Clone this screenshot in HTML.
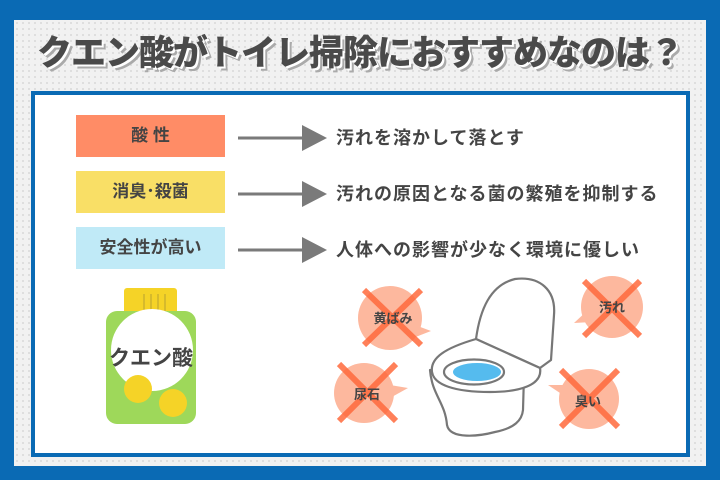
<!DOCTYPE html>
<html><head><meta charset="utf-8"><style>
*{margin:0;padding:0;box-sizing:border-box}
body{width:720px;height:480px;overflow:hidden;background:#0a6ab4;font-family:"Liberation Sans","Noto Sans CJK JP",sans-serif;position:relative}
.bg{position:absolute;left:14px;top:20px;width:692px;height:446px;background:#f1f1f1;background-image:radial-gradient(#dcdcdc 1px,transparent 1.2px);background-size:6px 6px}
.title{position:absolute;left:0;top:25px;width:720px;text-align:center;font-size:35px;font-weight:900;color:#4a4a4a;letter-spacing:-1px;text-shadow:2px 2px 0 #fff,4px 4px 0 #aaa}
.panel{position:absolute;left:31px;top:91px;width:659px;height:366px;background:#fff;border:4px solid #0a6ab4}
.box{position:absolute;left:76px;width:149px;height:42px;font-size:17px;font-weight:bold;color:#444;text-align:center;line-height:42px}
.t{position:absolute;left:336px;font-size:18px;font-weight:bold;color:#444;line-height:22px;letter-spacing:1px}
svg{position:absolute;left:0;top:0}
</style></head><body>
<div class="bg"></div>
<div class="title">クエン酸がトイレ掃除におすすめなのは？</div>
<div class="panel"></div>
<div class="box" style="top:115px;background:#ff8c66">酸 性</div>
<div class="box" style="top:171px;background:#f9df66">消臭･殺菌</div>
<div class="box" style="top:227px;background:#c0eaf7">安全性が高い</div>
<div class="t" style="top:127px">汚れを溶かして落とす</div>
<div class="t" style="top:183px">汚れの原因となる菌の繁殖を抑制する</div>
<div class="t" style="top:239px">人体への影響が少なく環境に優しい</div>
<svg width="720" height="480" viewBox="0 0 720 480">
<g fill="#7a7a7a">
<rect x="238" y="136.5" width="68" height="3"/><polygon points="302,125 327,138 302,151"/>
<rect x="238" y="192.5" width="68" height="3"/><polygon points="302,181 327,194 302,207"/>
<rect x="238" y="248.5" width="68" height="3"/><polygon points="302,237 327,250 302,263"/>
</g>
<rect x="124" y="288" width="53" height="30" rx="3" fill="#f5d327"/>
<g stroke="#b8a030" stroke-width="1"><line x1="144" y1="294" x2="144" y2="312"/><line x1="151" y1="294" x2="151" y2="312"/><line x1="158" y1="294" x2="158" y2="312"/><line x1="165" y1="294" x2="165" y2="312"/></g>
<rect x="106" y="311" width="90" height="113" rx="11" fill="#9ed85a"/>
<circle cx="152" cy="350" r="41" fill="#fff"/>
<circle cx="138" cy="389" r="14" fill="#f5d327"/>
<circle cx="173" cy="403" r="14" fill="#f5d327"/>
<text x="151" y="365" font-size="21" font-weight="bold" fill="#444" text-anchor="middle" font-family="Liberation Sans,Noto Sans CJK JP,sans-serif">クエン酸</text>
<g fill="#fdb89e">
<circle cx="390" cy="318" r="32"/><polygon points="415,325 431,331 413,338"/>
<circle cx="612" cy="307" r="31"/><polygon points="588,310 574,323 592,322"/>
<circle cx="364" cy="393" r="30"/><polygon points="390,385 408,388 390,398"/>
<circle cx="589" cy="399" r="30"/><polygon points="563,385 548,385 563,395"/>
</g>
<g stroke="#ff6a3d" stroke-width="6" opacity="0.85" stroke-linecap="butt">
<line x1="364" y1="290" x2="421" y2="345"/><line x1="421" y1="290" x2="364" y2="345"/>
<line x1="584" y1="281" x2="640" y2="336"/><line x1="640" y1="281" x2="584" y2="336"/>
<line x1="339" y1="364" x2="396" y2="421"/><line x1="396" y1="364" x2="339" y2="421"/>
<line x1="561" y1="370" x2="618" y2="427"/><line x1="618" y1="370" x2="561" y2="427"/>
</g>
<g font-size="13" font-weight="bold" fill="#444" text-anchor="middle" font-family="Liberation Sans,Noto Sans CJK JP,sans-serif">
<text x="393" y="323">黄ばみ</text><text x="612" y="312">汚れ</text><text x="367" y="399">尿石</text><text x="588" y="406">臭い</text>
</g>
<g fill="#fff" stroke="#777" stroke-width="2.2" stroke-linejoin="round">
<path d="M476,339 C480,310 490,285 515,279 C540,276 556,290 554,315 L551,360 L540,368 Z"/>
<path d="M430,370 C432,395 445,402 447,425 C450,440 480,436 495,432 C515,428 522,420 523,410 L524,375 Z"/>
<path d="M432,372 C430,358 445,348 476,339 L540,368 C543,385 520,392 490,392 C455,392 434,385 432,372 Z"/>
<ellipse cx="474" cy="372" rx="30" ry="12.5"/>
</g>
<ellipse cx="477" cy="372" rx="24" ry="9" fill="#55bbee"/>
</svg>
</body></html>
